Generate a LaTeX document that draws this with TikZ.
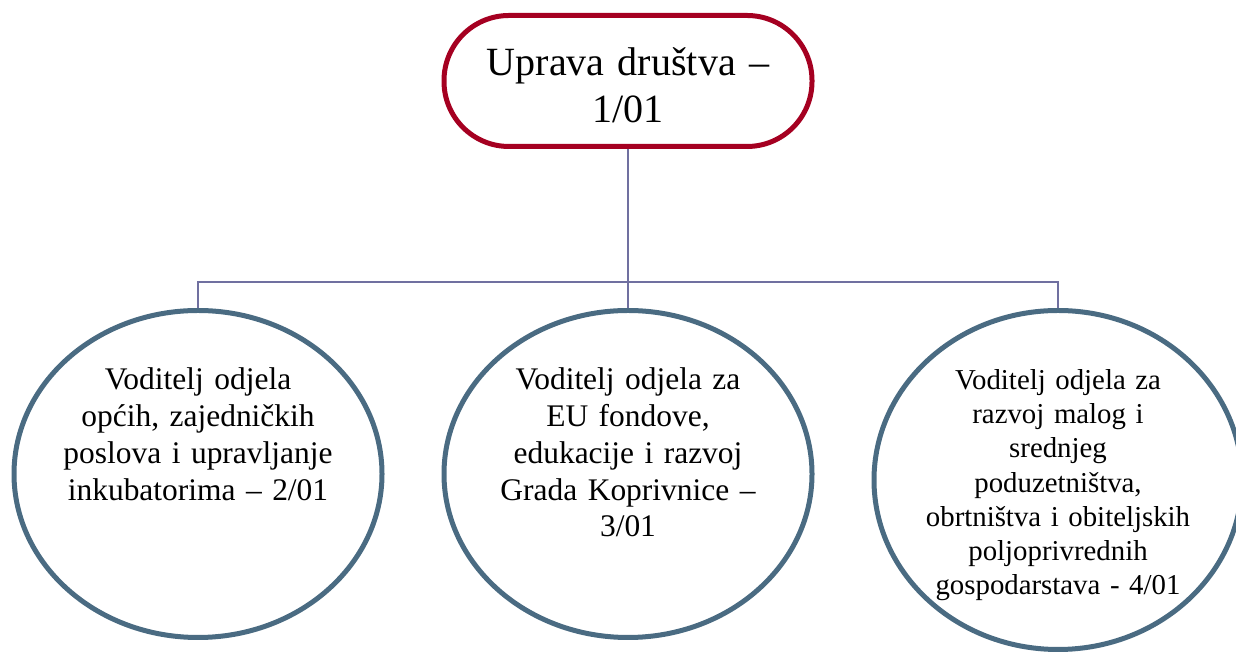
\documentclass[tikz,border=0pt]{standalone}
\usepackage{fontspec}
\setmainfont{Liberation Serif}
\usetikzlibrary{shapes}
\definecolor{upravared}{RGB}{165,0,33}
\definecolor{odjelblue}{RGB}{74,107,130}
\definecolor{vezaline}{RGB}{112,112,160}

\begin{document}
\begin{tikzpicture}[uprava/.style={draw=upravared,line width=0.1cm,rectangle,rounded corners=1.3cm,
    minimum width=7.36cm,minimum height=2.62cm,inner ysep=0pt,text width=5.8cm,align=center,
    text height=0.96cm,text depth=1.16cm,font=\fontsize{22.8}{26.2}\selectfont},
  odjel/.style={draw=odjelblue,line width=0.1cm,ellipse,minimum width=7.36cm,
    inner xsep=-0.3cm,inner ysep=0pt,text width=5.6cm,align=center,text height=0.5cm,
    font=\fontsize{17.9}{20.9}\selectfont},
  veza/.style={draw=vezaline,line width=0.03cm}]
\useasboundingbox (0cm,0cm) rectangle (24.72cm,13.06cm);
\node (U) [uprava] at (12.56cm,11.44cm) {Uprava društva –\\1/01};
\node (A) [odjel,minimum height=6.54cm,text depth=3.86cm] at (3.96cm,3.58cm)
{Voditelj odjela\\općih, zajedničkih\\poslova i upravljanje\\inkubatorima – 2/01};
\node (B) [odjel,minimum height=6.54cm,text depth=3.86cm] at (12.56cm,3.58cm)
{Voditelj odjela za\\EU fondove,\\edukacije i razvoj\\Grada Koprivnice –\\3/01};
\node (C) [odjel,minimum height=6.78cm,text depth=4.1cm,font=\fontsize{16.4}{19.35}\selectfont]
  at (21.16cm,3.46cm)
{Voditelj odjela za\\razvoj malog i\\srednjeg\\poduzetništva,\\obrtništva i obiteljskih\\poljoprivrednih\\gospodarstava - 4/01};
\coordinate (bus) at (0cm,7.42cm);
\foreach \n in {A,B,C}
  \draw [veza] (U.south) -- (U.south |- bus) -| (\n.north);
\end{tikzpicture}
\end{document}
